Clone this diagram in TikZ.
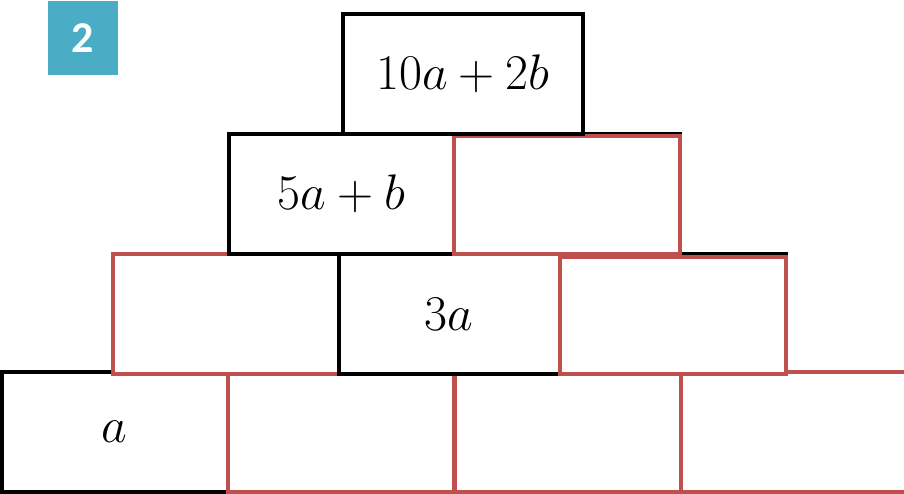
\documentclass[tikz,border=0pt]{standalone}
\usepackage{fix-cm}
\usepackage{fontspec}
\newfontfamily\badgefont{Carlito}
\definecolor{brickred}{HTML}{C0504D}
\definecolor{badgeblue}{HTML}{4BACC6}
\tikzset{
  brick/.style={draw=black, line width=4pt, fill=white, minimum width=226pt,
    minimum height=120pt, inner sep=0pt, font=\fontsize{50}{60}\selectfont},
  blank/.style={brick, draw=brickred},
}

\begin{document}
\begin{tikzpicture}[x=1pt, y=-1pt]
  \useasboundingbox (0,0) rectangle (904,493);
  \clip (0,0) rectangle (904,493);
  % number badge
  \node[fill=badgeblue, minimum width=70pt, minimum height=74pt, inner sep=0pt,
        text=white, font=\badgefont\bfseries\fontsize{44}{44}\selectfont] (num) at (83,38) {2};
  % bottom row
  \node[brick] (r4a) at (114.5,432) {$a$};
  \node[blank] (r4b) at (341,432) {};
  \node[blank] (r4c) at (568,432) {};
  \node[blank] (r4d) at (794,432) {};
  % third row
  \node[blank] (r3a) at (226,314) {};
  \node[brick, minimum width=221pt] (r3b) at (449,314) {$3a$};
  \node[brick] (r3c-back) at (673,314) {};
  \node[blank, minimum height=117pt] (r3c) at (673,315.5) {};
  % second row
  \node[brick] (r2a) at (341.5,194) {$5a+b$};
  \node[brick] (r2b-back) at (567,194) {};
  \node[blank, minimum height=118pt] (r2b) at (567,195) {};
  % top row
  \node[brick, minimum width=240pt] (top) at (463,73.5) {$10a+2b$};
\end{tikzpicture}
\end{document}
